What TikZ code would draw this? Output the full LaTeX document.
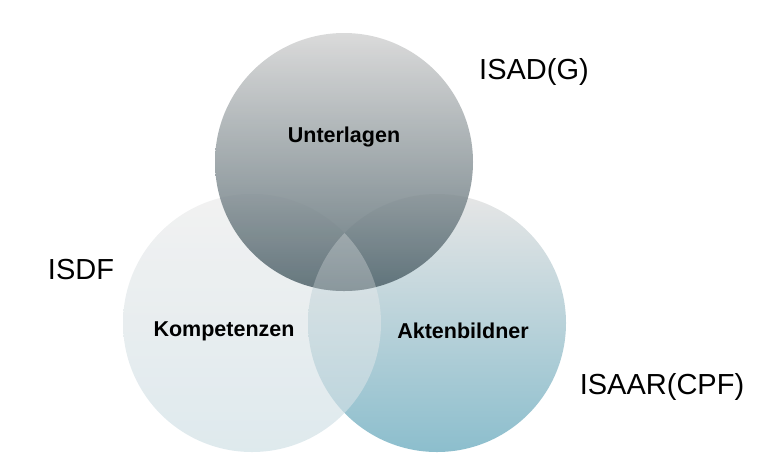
\documentclass[tikz,border=0pt]{standalone}
\usepackage{fontspec}
\setmainfont{Liberation Sans}
\usepackage{tikz}
\usetikzlibrary{positioning, backgrounds}
\tikzstyle{ball} = [circle, minimum size=258pt, inner sep=0pt, draw=none]
\tikzstyle{inner} = [font=\fontsize{21.5}{26}\selectfont\bfseries, text=black]
\tikzstyle{std} = [font=\fontsize{29}{34}\selectfont, text=black]

\begin{document}
\begin{tikzpicture}[x=1pt, y=-1pt]

\useasboundingbox (0,0) rectangle (771,475);

% circles: right, left, top
\node (aktenbildner) [ball, top color={rgb,255:red,230;green,230;blue,230}, bottom color={rgb,255:red,140;green,190;blue,205}] at (437,323) {};
\node (kompetenzen) [ball, fill opacity=0.65, top color={rgb,255:red,234;green,234;blue,234}, bottom color={rgb,255:red,205;green,222;blue,228}] at (252,323) {};
\node (unterlagen) [ball, fill opacity=0.84, top color={rgb,255:red,211;green,211;blue,211}, bottom color={rgb,255:red,76;green,96;blue,104}] at (344,162) {};

% middle part
\begin{scope}
\clip (kompetenzen.center) circle (129pt);
\clip (aktenbildner.center) circle (129pt);
\fill[white, fill opacity=0.26] (unterlagen.center) circle (129pt);
\end{scope}

\node (t1) [inner] at (344,137) {Unterlagen};
\node (t2) [inner] at (224,331) {Kompetenzen};
\node (t3) [inner] at (463,331) {Aktenbildner};

\node (isadg) [std] at (534,72) {ISAD(G)};
\node (isdf) [std] at (81,270) {ISDF};
\node (isaar) [std] at (662,387) {ISAAR(CPF)};

\end{tikzpicture}
\end{document}
